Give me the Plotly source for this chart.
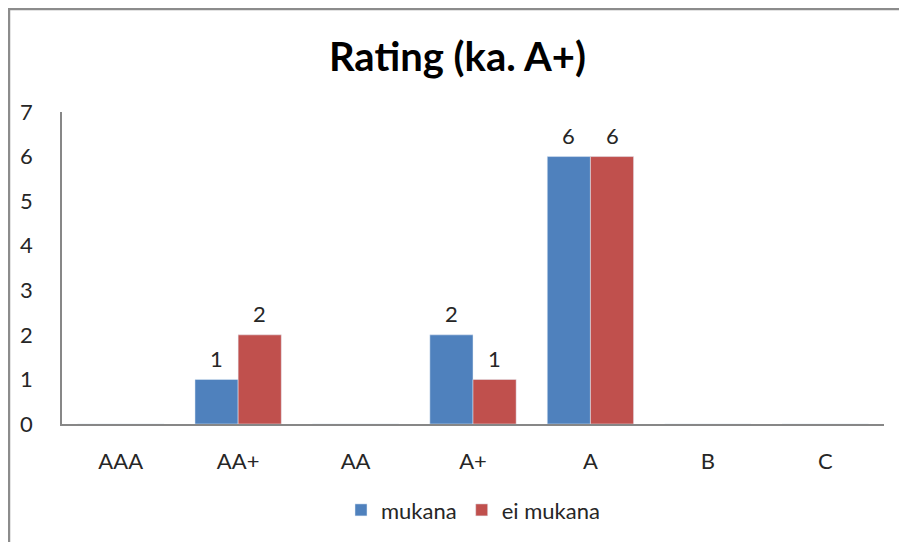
import plotly.graph_objects as go

categories = ["AAA", "AA+", "AA", "A+", "A", "B", "C"]
mukana = [0, 1, 0, 2, 6, 0, 0]
ei_mukana = [0, 2, 0, 1, 6, 0, 0]
y_ticks = [0, 1, 2, 3, 4, 5, 6, 7]

FONT = "Lato"
TXT = "#262626"
BARGAP = 0.265
PLOT_W = 822  # plot area width in px

fig = go.Figure()
fig.add_trace(go.Bar(name="mukana", x=categories, y=mukana, marker_color="#4F81BD"))
fig.add_trace(go.Bar(name="ei mukana", x=categories, y=ei_mukana, marker_color="#C0504D"))

# data labels (only non-zero values), positioned over each bar of the group
bar_px = PLOT_W / len(categories) * (1 - BARGAP) / 2
annotations = []
for series, shift in ((mukana, -bar_px / 2), (ei_mukana, bar_px / 2)):
    for cat, v in zip(categories, series):
        if v:
            annotations.append(dict(x=cat, y=v, xref="x", yref="y", text=str(v),
                                    showarrow=False, xshift=shift, yshift=21,
                                    yanchor="middle", xanchor="center",
                                    font=dict(size=22, family=FONT, color=TXT)))

fig.update_layout(
    width=899, height=534,
    margin=dict(l=54, r=23, t=104, b=118, autoexpand=False),
    paper_bgcolor="white", plot_bgcolor="white",
    font=dict(family=FONT, color=TXT, size=22),
    title=dict(text="<b>Rating (ka. A+)</b>", x=0.5, xanchor="center", y=0.908, yanchor="middle",
               font=dict(size=40, family=FONT, color="black")),
    barmode="group", bargap=BARGAP, bargroupgap=0,
    showlegend=True,
    legend=dict(orientation="h", x=0.5, xanchor="center", y=-0.276, yanchor="middle",
                font=dict(size=22, family=FONT, color=TXT), itemwidth=30),
    xaxis=dict(showline=True, linecolor="#878787", linewidth=1.5, ticks="", showgrid=False,
               tickfont=dict(size=22, color=TXT), ticklabelstandoff=17),
    yaxis=dict(range=[0, 7], tickvals=y_ticks, showline=True, linecolor="#878787", linewidth=1.5,
               ticks="", showgrid=False, zeroline=False,
               tickfont=dict(size=22, color=TXT), ticklabelstandoff=23),
    annotations=annotations,
    shapes=[dict(type="rect", xref="paper", yref="paper",
                 x0=-0.0645, x1=1.04, y0=-0.40, y1=1.330,
                 line=dict(color="#8C8C8C", width=2.5), fillcolor="rgba(0,0,0,0)", layer="below")],
)

fig.write_html("out.html")
